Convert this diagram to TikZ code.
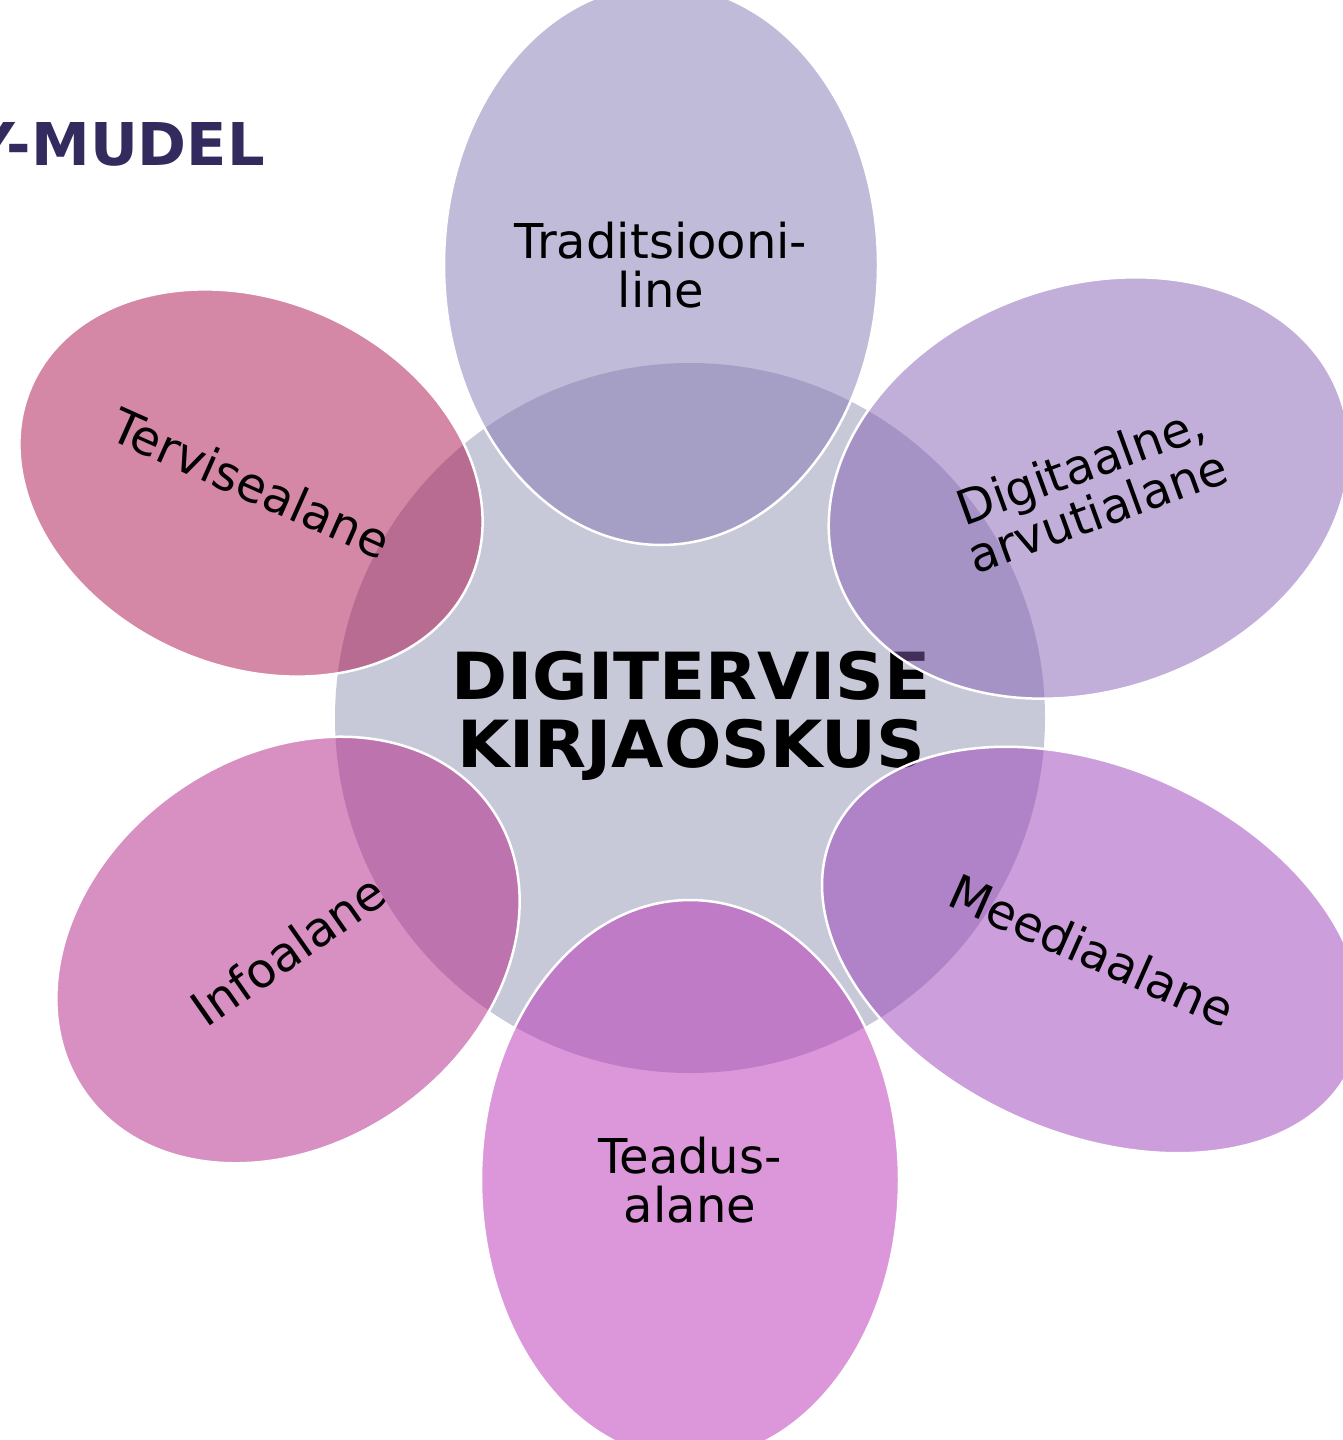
\documentclass[tikz,border=0pt]{standalone}
\usepackage{fontspec}
\setmainfont{DejaVu Sans}
\usetikzlibrary{shapes.geometric}
\definecolor{hubc}{HTML}{C8C9D8}
\definecolor{titlec}{HTML}{332A5E}
\definecolor{ptop}{RGB}{131,119,181}
\definecolor{pdig}{RGB}{131,95,179}
\definecolor{pmed}{RGB}{153,61,185}
\definecolor{ptea}{RGB}{185,47,181}
\definecolor{pinf}{RGB}{177,31,133}
\definecolor{pter}{RGB}{169,17,77}
\begin{document}
\begin{tikzpicture}[x=1pt,y=-1pt,
  petal/.style={ellipse, draw=white, line width=2.5pt, fill opacity=0.5,
    text opacity=1, draw opacity=1, inner sep=0pt, outer sep=0pt,
    text=black, align=center, font=\fontsize{48}{49}\selectfont},
  hub/.style={circle, fill=hubc, inner sep=0pt, outer sep=0pt},
  hubtext/.style={font=\bfseries\fontsize{65}{68}\selectfont\addfontfeature{FakeStretch=1.04}, align=center, inner sep=0pt, text=black},
  titletext/.style={anchor=base east, inner sep=0pt, text=titlec, font=\bfseries\fontsize{59}{59}\selectfont}
]
\useasboundingbox (0,0) rectangle (1343,1440);
\clip (0,0) rectangle (1343,1440);
\node[titletext] (title) at (265,165) {Y-MUDEL};
\node[hub, minimum size=710pt] (hub) at (690,718) {};
\node[hubtext] (hubtxt) at (691,716) {DIGITERVISE\\KIRJAOSKUS};
\node[petal, fill=ptop, minimum width=434pt, minimum height=560pt] (trad) at (661,265) {Traditsiooni-\\line};
\node[petal, fill=pdig, minimum width=534pt, minimum height=404pt, rotate=20] (digi) at (1089,488) {Digitaalne,\\arvutialane};
\node[petal, fill=pmed, minimum width=568pt, minimum height=366pt, rotate=-24] (meed) at (1092,950) {Meediaalane};
\node[petal, fill=ptea, minimum width=418pt, minimum height=560pt] (tead) at (690,1180) {Teadus-\\alane};
\node[petal, fill=pinf, minimum width=496pt, minimum height=388pt, rotate=35] (info) at (288,950) {Infoalane};
\node[petal, fill=pter, minimum width=480pt, minimum height=366pt, rotate=-24] (terv) at (251,483) {Tervisealane};
\end{tikzpicture}
\end{document}
